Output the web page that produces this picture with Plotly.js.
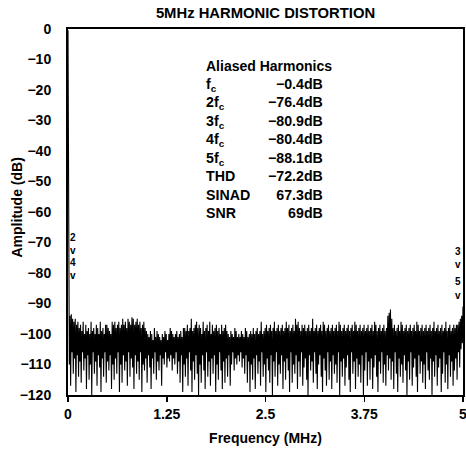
<!DOCTYPE html>
<html>
<head>
<meta charset="utf-8">
<script src="https://cdn.plot.ly/plotly-3.0.1.min.js"></script>
<style>html,body{margin:0;padding:0;background:#fff;}#chart{width:466px;height:449px;}</style>
</head>
<body>
<div id="chart"></div>
<script>
// Spectrum (dB), 600 bins from 0 to 5 MHz
var spectrumDb = [
  -0.4, -93, -110, -94, -117, -93.5, -106, -95, -113, -96, -108, -95, -119, -97, -107, -96, -114, -98, -109, -97,
  -116, -99, -106, -96, -112, -100, -108, -97, -118, -99, -107, -98, -115, -100, -110, -96, -120, -99, -106, -98,
  -113, -100, -109, -97, -117, -98, -107, -100, -111, -96, -119, -99, -108, -98, -114, -100, -106, -97, -116, -97,
  -109, -98, -112, -99, -107, -100, -118, -96, -110, -97, -115, -96, -108, -98, -113, -97, -106, -96, -119, -98,
  -110, -97, -116, -95, -107, -97, -112, -96, -109, -98, -117, -95, -106, -96, -114, -97, -108, -94.5, -111, -95,
  -118, -97, -107, -96, -113, -95, -109, -97, -115, -96, -106, -98, -119, -97, -110, -96, -112, -98, -108, -99,
  -116, -100, -107, -101, -111, -99, -118, -100, -108, -102, -113, -98, -106, -101, -115, -99, -109, -100, -112, -101,
  -107, -102, -117, -100, -108, -101, -110, -99, -106, -100, -111, -102, -108, -100, -109, -98, -107, -99, -112, -100,
  -108, -101, -110, -100, -106, -99, -113, -101, -109, -100, -116, -99, -107, -101, -119, -98, -110, -98, -114, -99,
  -108, -97, -117, -99, -106, -98, -112, -95, -119, -99, -109, -98, -115, -97, -107, -96, -113, -98, -120, -97,
  -110, -98, -116, -100, -107, -96, -112, -99, -118, -98, -106, -97, -114, -99, -109, -96, -117, -100, -108, -97,
  -113, -99, -107, -98, -119, -97, -110, -99, -115, -98, -106, -100, -112, -97, -118, -99, -109, -98, -116, -97,
  -108, -99, -114, -100, -107, -101, -117, -99, -110, -100, -106, -101, -112, -98, -108, -99, -110, -101, -107, -100,
  -109, -101, -106, -99, -111, -100, -108, -101, -113, -98, -107, -99, -116, -101, -109, -100, -119, -99, -110, -100,
  -115, -98, -108, -100, -118, -99, -107, -98, -113, -100, -109, -99, -117, -96, -106, -100, -114, -99, -110, -98,
  -119, -97, -108, -99, -112, -98, -116, -97, -107, -99, -120, -98, -109, -96, -114, -99, -106, -98, -117, -97,
  -110, -99, -113, -98, -107, -97, -118, -99, -109, -98, -115, -96, -108, -98, -112, -97, -119, -99, -106, -98,
  -116, -97, -110, -99, -113, -95, -107, -97, -118, -96, -109, -98, -114, -99, -106, -97, -117, -98, -111, -97,
  -108, -99, -115, -98, -120, -97, -107, -99, -112, -98, -109, -95, -116, -99, -106, -98, -113, -97, -118, -99,
  -110, -98, -107, -97, -114, -99, -119, -96, -108, -97, -112, -99, -117, -98, -106, -97, -115, -99, -109, -98,
  -118, -97, -107, -99, -113, -98, -110, -97, -116, -99, -106, -96, -120, -97, -109, -99, -114, -98, -108, -97,
  -117, -99, -111, -98, -107, -97, -115, -99, -119, -98, -106, -97, -113, -99, -109, -96, -118, -97, -108, -99,
  -114, -98, -110, -97, -116, -99, -107, -98, -120, -97, -112, -99, -106, -98, -117, -97, -109, -99, -115, -98,
  -108, -97, -118, -99, -111, -96, -107, -97, -114, -99, -119, -98, -109, -97, -113, -99, -106, -98, -116, -97,
  -110, -99, -117, -98, -107, -94, -112, -93, -108, -92, -115, -95, -109, -98, -118, -97, -106, -99, -113, -98,
  -119, -97, -108, -99, -114, -96, -110, -97, -116, -99, -107, -98, -112, -97, -120, -99, -109, -98, -115, -97,
  -106, -99, -117, -98, -111, -97, -108, -99, -114, -96, -119, -97, -107, -99, -113, -98, -109, -97, -116, -99,
  -110, -98, -118, -97, -106, -99, -112, -98, -115, -97, -108, -99, -120, -98, -109, -96, -114, -99, -107, -98,
  -117, -97, -111, -99, -108, -98, -119, -97, -113, -99, -106, -98, -116, -96, -110, -99, -118, -98, -107, -97,
  -114, -99, -109, -98, -117, -97, -112, -98, -108, -97, -115, -97, -106, -96, -111, -95, -105, -94, -103, -91
];
var freqStartMHz = 0;
var freqEndMHz = 5;
var xTickVals = [0, 1.25, 2.5, 3.75, 5];
var xTickText = ["0", "1.25", "2.5", "3.75", "5"];
var yTickVals = [0, -10, -20, -30, -40, -50, -60, -70, -80, -90, -100, -110, -120];

var chartTitle = "5MHz HARMONIC DISTORTION";
var xTitle = "Frequency (MHz)";
var yTitle = "Amplitude (dB)";
var tableTitle = "Aliased Harmonics";
var tableLabels = ["f<sub>c</sub>", "2f<sub>c</sub>", "3f<sub>c</sub>", "4f<sub>c</sub>", "5f<sub>c</sub>", "THD", "SINAD", "SNR"];
var tableValues = ["−0.4dB", "−76.4dB", "−80.9dB", "−80.4dB", "−88.1dB", "−72.2dB", "67.3dB", "69dB"];
var leftMarks = ["2", "v", "4", "v"];
var rightMarks = ["3", "v", "5", "v"];

var n = spectrumDb.length;
var freqs = spectrumDb.map(function (_, i) {
  return freqStartMHz + (freqEndMHz - freqStartMHz) * i / (n - 1);
});

var FONT = "Liberation Sans, Arial, Helvetica, sans-serif";
function bold(s) { return "<b>" + s + "</b>"; }

var annotations = [];
var tabLeft = 1.72, tabRight = 3.25;
annotations.push({x: tabLeft, y: -12.1, xref: "x", yref: "y", text: bold(tableTitle), showarrow: false,
  xanchor: "left", yanchor: "middle", font: {family: FONT, size: 14, color: "#000"}});
// table columns as multi-line annotations
annotations.push({x: tabLeft, y: -39.2, xref: "x", yref: "y",
  text: bold(tableLabels.join("<br>")), showarrow: false, xanchor: "left", yanchor: "middle", align: "left",
  font: {family: FONT, size: 14.2, color: "#000"}});
annotations.push({x: tabRight, y: -39.2, xref: "x", yref: "y",
  text: bold(tableValues.join("<br>")), showarrow: false, xanchor: "right", yanchor: "middle", align: "right",
  font: {family: FONT, size: 14.2, color: "#000"}});

var leftY = [-68.5, -72.6, -76.6, -80.8];
var rightY = [-72.8, -77.3, -82.9, -87.4];
for (var j = 0; j < 4; j++) {
  annotations.push({x: 0.06, y: leftY[j], xref: "x", yref: "y", text: bold(leftMarks[j]), showarrow: false,
    xanchor: "center", yanchor: "middle", font: {family: FONT, size: 10, color: "#000"}});
  annotations.push({x: 4.94, y: rightY[j], xref: "x", yref: "y", text: bold(rightMarks[j]), showarrow: false,
    xanchor: "center", yanchor: "middle", font: {family: FONT, size: 10, color: "#000"}});
}
annotations.push({xref: "paper", yref: "paper", x: (16.5 - 68) / 395, y: (395 - 208) / 366,
  text: bold(yTitle), textangle: -90, showarrow: false, xanchor: "center", yanchor: "middle",
  font: {family: FONT, size: 14, color: "#000"}});

var trace = {
  x: freqs, y: spectrumDb, type: "scatter", mode: "lines",
  line: {color: "#000", width: 1.1}, hoverinfo: "skip", showlegend: false
};

var layout = {
  width: 466, height: 449,
  margin: {l: 68, r: 3, t: 29, b: 54, pad: 0},
  paper_bgcolor: "#fff", plot_bgcolor: "#fff",
  font: {family: FONT, size: 14, color: "#000"},
  title: {text: bold(chartTitle), xref: "paper", x: 0.5, xanchor: "center",
    yref: "container", y: 1 - 13 / 449, yanchor: "middle",
    font: {family: FONT, size: 14.8, color: "#000"}},
  xaxis: {
    range: [freqStartMHz, freqEndMHz], tickvals: xTickVals, ticktext: xTickText.map(bold),
    ticks: "outside", ticklen: 5, tickwidth: 1.5, tickcolor: "#000",
    ticklabeloverflow: "allow",
    showline: true, linecolor: "#000", linewidth: 2, mirror: true,
    showgrid: false, zeroline: false, fixedrange: true,
    tickfont: {family: FONT, size: 14, color: "#000"},
    title: {text: bold(xTitle), standoff: 12, font: {family: FONT, size: 14, color: "#000"}}
  },
  yaxis: {
    range: [-120, 0], tickvals: yTickVals,
    ticktext: yTickVals.map(function (v) { return bold(v === 0 ? "0" : "−" + Math.abs(v)); }),
    ticks: "", ticklabelstandoff: 12,
    showline: true, linecolor: "#000", linewidth: 2, mirror: true,
    showgrid: false, zeroline: false, fixedrange: true,
    tickfont: {family: FONT, size: 14, color: "#000"}
  },
  annotations: annotations
};

Plotly.newPlot("chart", [trace], layout, {displayModeBar: false, staticPlot: true});
</script>
</body>
</html>
